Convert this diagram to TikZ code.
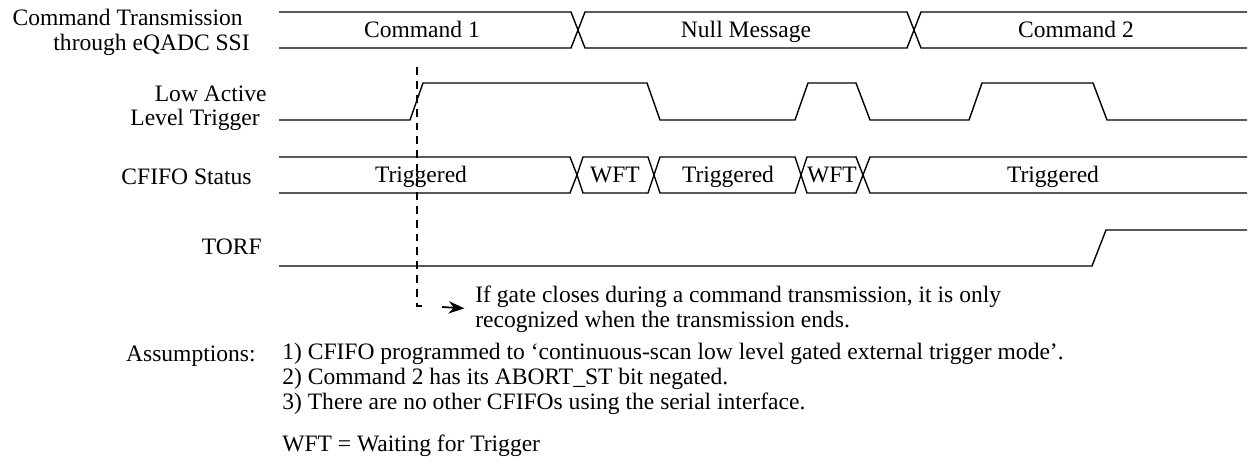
\documentclass[tikz,border=0pt]{standalone}
\usepackage{fontspec}
\setmainfont{Liberation Serif}
\usetikzlibrary{arrows.meta}

\tikzset{
    sig/.style={line width=0.8pt},
    lbl/.style={inner sep=0pt, font=\fontsize{13.4}{14.2}\selectfont},
    onelbl/.style={lbl, text height=9pt, text depth=0.3pt},
    gateline/.style={line width=1.1pt, dash pattern=on 4.5pt off 3.4pt}
}

\begin{document}
\begin{tikzpicture}[x=0.02cm, y=-0.02cm]
    \useasboundingbox (0,0) rectangle (1249,465);

    % Signal names
    \node[onelbl, anchor=east] (cmdname) at (243,18) {Command Transmission};
    \node[onelbl, anchor=east] (ssiname) at (250,43) {through eQADC SSI};
    \node[onelbl, anchor=east] (lowname) at (267,94) {Low Active};
    \node[onelbl, anchor=east] (lvlname) at (260,118) {Level Trigger};
    \node[onelbl, anchor=east] (fifoname) at (252,177) {CFIFO Status};
    \node[onelbl, anchor=east] (torfname) at (262,247) {TORF};

    % Command bus
    \draw[sig] (279,12) -- (571,12) -- (578,30) -- (571,48) -- (279,48);
    \draw[sig] (578,30) -- (585,12) -- (907,12) -- (914,30) -- (907,48) -- (585,48) -- cycle;
    \draw[sig] (1247,12) -- (921,12) -- (914,30) -- (921,48) -- (1247,48);
    \node[onelbl] (cmd1) at (422,30) {Command 1};
    \node[onelbl] (nullmsg) at (746,30) {Null Message};
    \node[onelbl] (cmd2) at (1076,30) {Command 2};

    % Low active level trigger
    \draw[sig] (279,120) -- (410,120) -- (423,83) -- (647,83) -- (660,120)
        -- (795,120) -- (808,83) -- (856,83) -- (870,120)
        -- (969,120) -- (982,83) -- (1093,83) -- (1107,120) -- (1247,120);

    % CFIFO status bus
    \draw[sig] (279,157) -- (570,157) -- (577,175) -- (570,193) -- (279,193);
    \draw[sig] (577,175) -- (583,157) -- (648,157) -- (654,175) -- (648,193) -- (583,193) -- cycle;
    \draw[sig] (654,175) -- (660,157) -- (795,157) -- (801,175) -- (795,193) -- (660,193) -- cycle;
    \draw[sig] (801,175) -- (807,157) -- (856,157) -- (863,175) -- (856,193) -- (807,193) -- cycle;
    \draw[sig] (1247,157) -- (870,157) -- (863,175) -- (870,193) -- (1247,193);
    \node[onelbl] (trig1) at (421,175) {Triggered};
    \node[onelbl] (wft1) at (615,175) {WFT};
    \node[onelbl] (trig2) at (728,175) {Triggered};
    \node[onelbl] (wft2) at (832,175) {WFT};
    \node[onelbl] (trig3) at (1053,175) {Triggered};

    % TORF
    \draw[sig] (279,266) -- (1092,266) -- (1106,230) -- (1247,230);

    % Gate closing note
    \node[lbl, anchor=west, align=left] (note) at (475,309)
        {If gate closes during a command transmission, it is only\\
         recognized when the transmission ends.};
    \coordinate (gatetop) at (417,67);
    \coordinate (gatecorner) at (417,306);
    \coordinate (gateend) at (424,306);
    \coordinate (arrowstart) at (442,307);
    \draw[gateline] (gatetop) -- (gatecorner) -- (gateend);
    \draw[line width=1pt, -{Stealth[length=9pt,width=7pt]}, shorten >=6pt]
        (arrowstart) -- (note.west);

    % Assumptions
    \node[onelbl, anchor=east] (assume) at (256,354) {Assumptions:};
    \node[lbl, anchor=west, align=left] (items) at (282,379)
        {1) CFIFO programmed to `continuous-scan low level gated external trigger mode'.\\
         2) Command 2 has its ABORT\_ST bit negated.\\
         3) There are no other CFIFOs using the serial interface.};
    \node[onelbl, anchor=west] (wftnote) at (282,444) {WFT = Waiting for Trigger};
\end{tikzpicture}
\end{document}
